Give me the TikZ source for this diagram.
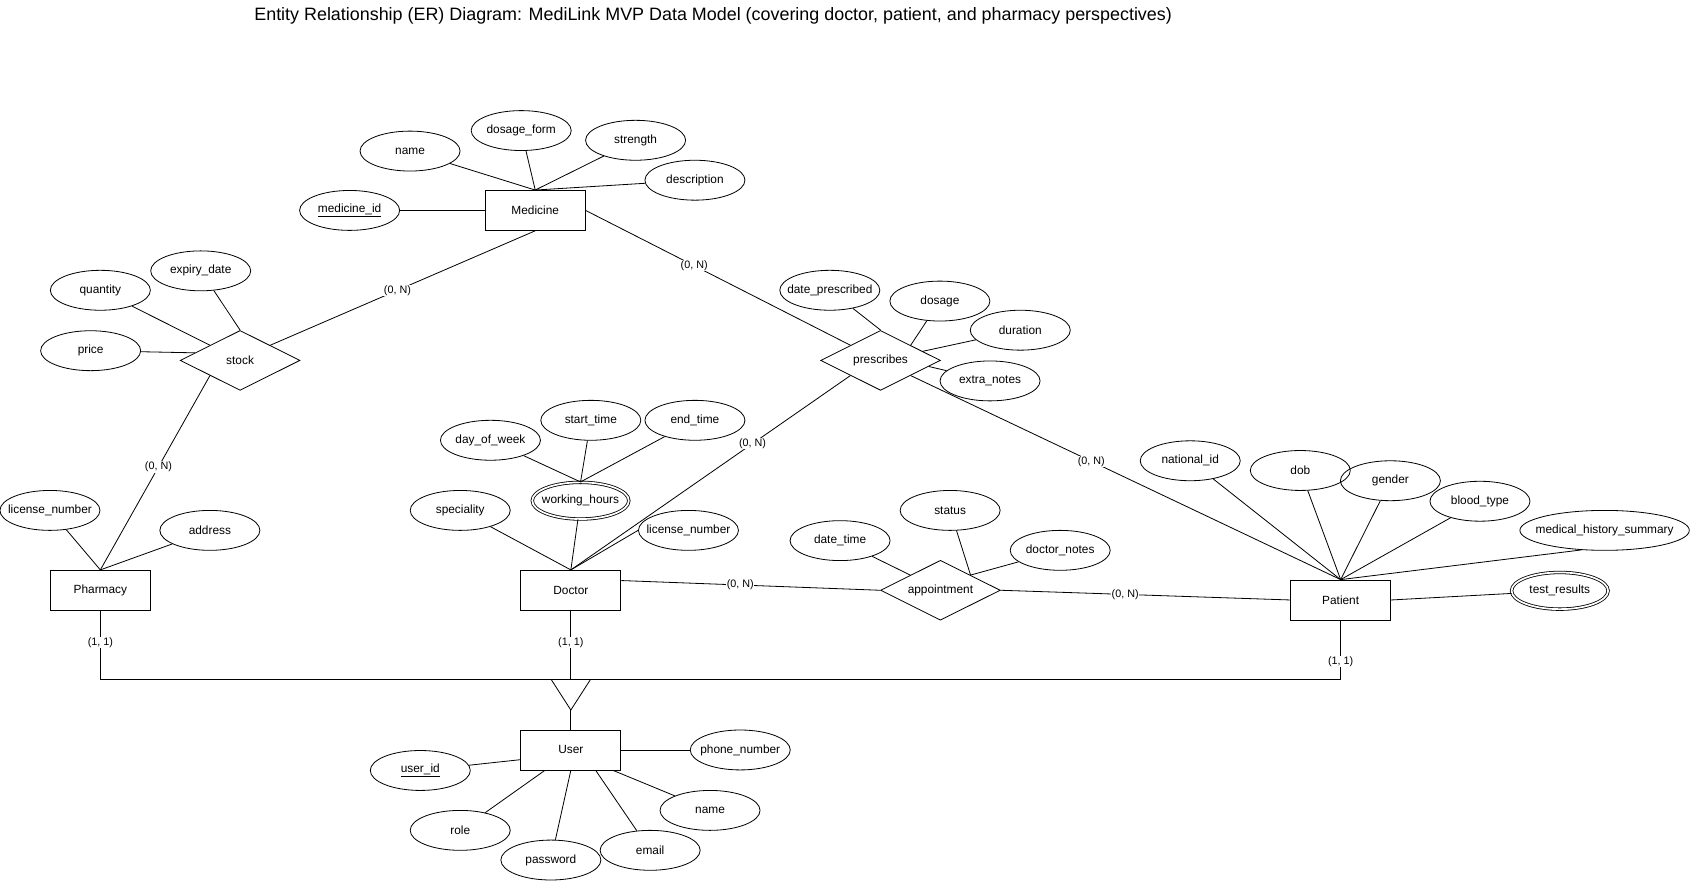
\documentclass[tikz,border=0pt]{standalone}
\usepackage{fontspec}
\setmainfont{Liberation Sans}
\usetikzlibrary{shapes.geometric,calc}
\begin{document}
\begin{tikzpicture}[x=1pt,y=-1pt, line width=0.75pt,
  every node/.style={font=\fontsize{11}{13}\selectfont},
  ent/.style={draw, rectangle, minimum width=92.7pt, minimum height=37pt, inner sep=0pt},
  attr/.style={draw, ellipse, minimum width=92.7pt, minimum height=37pt, inner ysep=0pt, inner xsep=-15pt},
  mattr/.style={attr, double, double distance=1.6pt, minimum width=89.5pt, minimum height=34pt},
  rel/.style={draw, diamond, aspect=2, minimum width=111pt, minimum height=55.5pt, inner sep=0pt},
  card/.style={fill=white, inner sep=0.6pt, font=\fontsize{10}{12}\selectfont},
]
\path[use as bounding box] (0,0) rectangle (1568,816);

\node[anchor=west, font=\fontsize{16.6}{20}\selectfont] (title) at (232,15) {Entity Relationship (ER) Diagram: MediLink MVP Data Model (covering doctor, patient, and pharmacy perspectives)};

% entities
\node[ent] (med) at (496,195) {Medicine};
\node[ent] (pharm) at (93,547) {Pharmacy};
\node[ent] (doc) at (529,547) {Doctor};
\node[ent] (pat) at (1242.4,556) {Patient};
\node[ent] (user) at (529,695) {User};

% relationships
\node[rel] (stock) at (222.5,334) {stock};
\node[rel] (presc) at (816,334) {prescribes};
\node[rel] (appt) at (871.5,547) {appointment};

% medicine attributes
\node[attr] (name1) at (380,140) {name};
\node[attr] (dform) at (483,121) {dosage\_form};
\node[attr] (strength) at (589,130) {strength};
\node[attr] (descr) at (644,167) {description};
\node[attr] (medid) at (324,195) {\underline{medicine\_id}};

% stock attributes
\node[attr] (expiry) at (186,251) {expiry\_date};
\node[attr] (qty) at (93,269) {quantity};
\node[attr] (price) at (84,325) {price};

% pharmacy attributes
\node[attr] (lic1) at (46.3,473) {license\_number};
\node[attr] (addr) at (194.5,491.5) {address};

% prescribes attributes
\node[attr] (datep) at (769,269) {date\_prescribed};
\node[attr] (dosage) at (871,279) {dosage};
\node[attr] (duration) at (945.5,306) {duration};
\node[attr] (extra) at (917.5,353) {extra\_notes};

% doctor attributes
\node[attr] (dow) at (454.5,408) {day\_of\_week};
\node[attr] (stt) at (547.5,389.5) {start\_time};
\node[attr] (endt) at (644,389.5) {end\_time};
\node[mattr] (wh) at (538,464) {working\_hours};
\node[attr] (spec) at (426.5,473) {speciality};
\node[attr] (lic2) at (638,491.5) {license\_number};

% appointment attributes
\node[attr] (dtime) at (778.5,501) {date\_time};
\node[attr] (status) at (880.5,473) {status};
\node[attr] (dnotes) at (982.5,510) {doctor\_notes};

% patient attributes
\node[attr] (natid) at (1103,427) {national\_id};
\node[attr] (dob) at (1205,436) {dob};
\node[attr] (gender) at (1288.5,445.5) {gender};
\node[attr] (blood) at (1371.5,464.5) {blood\_type};
\node[attr, minimum width=157pt] (mhs) at (1487,491.5) {medical\_history\_summary};
\node[mattr] (tres) at (1445.5,547.5) {test\_results};

% user attributes
\node[attr] (phone) at (686,695) {phone\_number};
\node[attr] (uid) at (389.5,714) {\underline{user\_id}};
\node[attr] (name2) at (658,751) {name};
\node[attr] (role) at (426.5,769.5) {role};
\node[attr] (pwd) at (510.5,797) {password};
\node[attr] (email) at (602.5,788) {email};

% medicine connectors
\draw (name1) -- (med.north);
\draw (dform) -- (med.north);
\draw (strength) -- (med.north);
\draw (descr) -- (med.north);
\draw (medid) -- (med.west);
\draw (med.south) -- node[card,pos=.52]{(0, N)} ($(stock.north)!.5!(stock.east)$);
\draw (med.east) -- node[card,pos=.41]{(0, N)} ($(presc.north)!.5!(presc.west)$);

% stock connectors
\draw (expiry) -- (stock.north);
\draw (qty) -- ($(stock.north)!.5!(stock.west)$);
\draw (price) -- ($(stock.west)!.25!(stock.north)$);
\draw ($(stock.south)!.5!(stock.west)$) -- node[card,pos=.47]{(0, N)} (pharm.north);

% pharmacy connectors
\draw (lic1) -- (pharm.north);
\draw (addr) -- (pharm.north);

% prescribes connectors
\draw (datep) -- (presc.north);
\draw (dosage) -- ($(presc.north)!.5!(presc.east)$);
\draw (duration) -- ($(presc.north)!.7!(presc.east)$);
\draw (extra) -- ($(presc.east)!.2!(presc.south)$);
\draw ($(presc.south)!.5!(presc.west)$) -- node[card,pos=.35]{(0, N)} (doc.north);
\draw ($(presc.south)!.5!(presc.east)$) -- node[card,pos=.42]{(0, N)} (pat.north);

% doctor connectors
\draw (spec) -- (doc.north);
\draw (wh) -- (doc.north);
\draw (lic2.west) -- (doc.north);
\draw (dow) -- (wh.north);
\draw (stt) -- (wh.north);
\draw (endt) -- (wh.north);
\draw ($(doc.east)+(0,-9)$) -- node[card,pos=.46]{(0, N)} (appt.west);

% appointment connectors
\draw (dtime) -- ($(appt.north)!.5!(appt.west)$);
\draw (status) -- ($(appt.north)!.5!(appt.east)$);
\draw (dnotes) -- ($(appt.north)!.5!(appt.east)$);
\draw (appt.east) -- node[card,pos=.43]{(0, N)} (pat.west);

% patient connectors
\draw (natid) -- (pat.north);
\draw (dob) -- (pat.north);
\draw (gender) -- (pat.north);
\draw (blood) -- (pat.north);
\draw (mhs.220) -- (pat.north);
\draw (pat.east) -- (tres);

% generalization
\coordinate (hl) at (0,630);
\coordinate (isaL) at (511,630);
\coordinate (isaR) at (547,630);
\coordinate (isaB) at (529,658);
\draw (pharm.south |- hl) -- (pat.south |- hl);
\draw (pharm.south) -- node[card,pos=.46]{(1, 1)} (pharm.south |- hl);
\draw (doc.south) -- node[card,pos=.46]{(1, 1)} (doc.south |- hl);
\draw (pat.south) -- node[card,pos=.69]{(1, 1)} (pat.south |- hl);
\draw (isaL) -- (isaB) -- (isaR);
\draw (isaB) -- (user.north);

% user connectors
\draw (phone) -- (user.east);
\draw (uid) -- ($(user.west)+(0,9)$);
\draw (role) -- ($(user.south)+(-24,0)$);
\draw (pwd) -- (user.south);
\draw (email) -- ($(user.south)+(23,0)$);
\draw (name2) -- ($(user.south)+(39,0)$);
\end{tikzpicture}
\end{document}
